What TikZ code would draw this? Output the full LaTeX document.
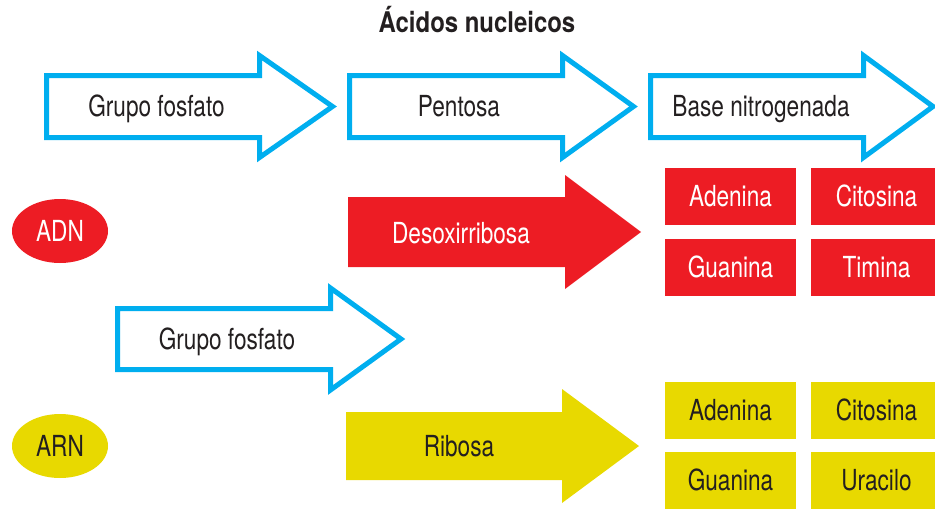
\documentclass[tikz,border=0pt]{standalone}
\usepackage{fontspec}
\setmainfont{TeX Gyre Heros}[FakeStretch=0.78]
\newfontfamily\titlefont{TeX Gyre Heros}[FakeStretch=0.84]
\usetikzlibrary{shapes.geometric}
\definecolor{cblue}{RGB}{0,174,239}
\definecolor{cred}{RGB}{237,28,36}
\definecolor{cyel}{RGB}{232,217,0}
\definecolor{ctext}{RGB}{35,31,32}
\newcommand\myarrowpath[6]{({#1},{#2-#3}) -- ({#4},{#2-#3}) -- ({#4},{#2-#5}) -- ({#6},{#2}) -- ({#4},{#2+#5}) -- ({#4},{#2+#3}) -- ({#1},{#2+#3}) -- cycle}
\tikzset{
  lbl/.style={inner sep=0pt, text height=20.8pt, text depth=0pt, font=\fontsize{29}{33}\selectfont, text=ctext},
  hollow/.style={draw=cblue, line width=5pt, fill=white, line join=miter},
  redbox/.style={fill=cred, minimum width=131pt, minimum height=57pt, inner sep=0pt, text height=20.8pt, text depth=0pt, text=white, font=\fontsize{29}{33}\selectfont},
  yelbox/.style={redbox, fill=cyel, text=ctext},
  oval/.style={ellipse, minimum width=96pt, minimum height=64pt, inner sep=0pt, text height=20.8pt, text depth=0pt, font=\fontsize{29}{33}\selectfont}
}
\begin{document}
\begin{tikzpicture}[x=1pt,y=-1pt]
\useasboundingbox (0,0) rectangle (935,509);
\clip (0,0) rectangle (935,509);
% title
\node[lbl, text height=20.5pt, font=\fontsize{28.5}{33}\selectfont\titlefont\bfseries] (title) at (477,22) {Ácidos nucleicos};
% top blue arrows
\draw[hollow] \myarrowpath{46.5}{106.5}{31}{259.5}{51}{332.5};
\node[lbl] (g1) at (156.5,106.5) {Grupo fosfato};
\draw[hollow] \myarrowpath{349.5}{106.5}{31}{562.5}{51}{633.5};
\node[lbl] (pent) at (459,106.5) {Pentosa};
\draw[hollow] \myarrowpath{650.5}{106.5}{31}{863.5}{51}{933};
\node[lbl] (base) at (761,106.5) {Base nitrogenada};
% ADN row
\node[oval, fill=cred, text=white] (adn) at (60,231) {ADN};
\fill[cred] \myarrowpath{348}{232}{35}{565}{57}{641};
\node[lbl, text=white] (desox) at (461,233) {Desoxirribosa};
\node[redbox] (ad1) at (730.5,196.5) {Adenina};
\node[redbox] (ci1) at (876.5,196.5) {Citosina};
\node[redbox] (gu1) at (730.5,267.5) {Guanina};
\node[redbox] (ti1) at (876.5,267.5) {Timina};
% middle blue arrow
\draw[hollow] \myarrowpath{117.5}{339}{30.5}{330.5}{51}{401};
\node[lbl] (g2) at (227,339.5) {Grupo fosfato};
% ARN row
\node[oval, fill=cyel, text=ctext] (arn) at (60,446) {ARN};
\fill[cyel] \myarrowpath{346}{446}{34}{562}{57}{639};
\node[lbl] (rib) at (459,446.5) {Ribosa};
\node[yelbox] (ad2) at (730.5,410.5) {Adenina};
\node[yelbox] (ci2) at (876.5,410.5) {Citosina};
\node[yelbox] (gu2) at (730.5,480.5) {Guanina};
\node[yelbox] (ur2) at (876.5,480.5) {Uracilo};
\end{tikzpicture}
\end{document}
